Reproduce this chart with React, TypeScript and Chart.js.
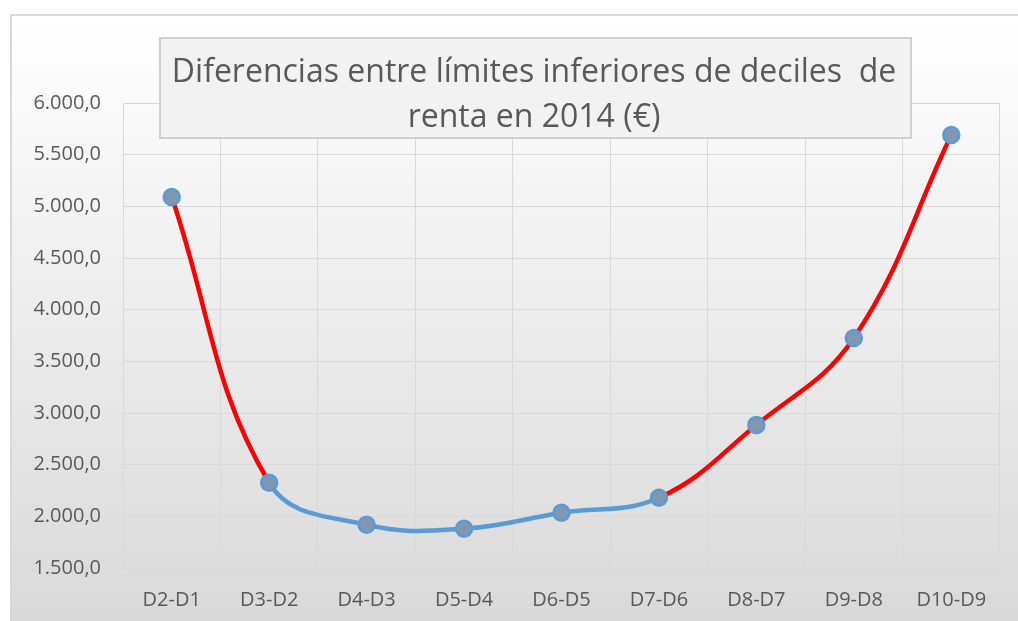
import React, { useEffect, useRef } from "react";
import { Chart, registerables } from "chart.js";

Chart.register(...registerables);

const categories = ["D2-D1", "D3-D2", "D4-D3", "D5-D4", "D6-D5", "D7-D6", "D8-D7", "D9-D8", "D10-D9"];
const values = [5090, 2325, 1918, 1880, 2035, 2180, 2885, 3725, 5690];
const blueSegments = [1, 2, 3, 4];
const titleLines = ["Diferencias entre límites inferiores de deciles  de", "renta en 2014 (€)"];

const fmt = (v: number) => {
  const s = Math.round(v).toString();
  const grouped = s.replace(/\B(?=(\d{3})+(?!\d))/g, ".");
  return grouped + ",0";
};

export default function App() {
  const ref = useRef<HTMLCanvasElement | null>(null);
  useEffect(() => {
    if (!ref.current) return;
    const bgPlugin = {
      id: "bg",
      beforeDraw(chart: any) {
        const c = chart.ctx;
        c.save();
        c.fillStyle = "#ffffff";
        c.fillRect(0, 0, chart.width, chart.height);
        const g = c.createLinearGradient(0, 15, 0, 621);
        g.addColorStop(0, "#FFFFFF");
        g.addColorStop(1, "#D9D9D9");
        c.fillStyle = g;
        c.fillRect(11, 15, chart.width, chart.height);
        c.strokeStyle = "#D9D9D9";
        c.lineWidth = 2;
        c.strokeRect(11, 15, chart.width + 10, chart.height + 10);
        c.restore();
      },
    };
    const titlePlugin = {
      id: "titlebox",
      afterDraw(chart: any) {
        const c = chart.ctx;
        c.save();
        c.fillStyle = "#F2F2F2";
        c.fillRect(160, 38, 751, 100);
        c.strokeStyle = "#D0D0D0";
        c.lineWidth = 2;
        c.strokeRect(160, 38, 751, 100);
        c.fillStyle = "#595959";
        c.font = "32px 'Open Sans', sans-serif";
        c.textAlign = "center";
        c.textBaseline = "alphabetic";
        c.fillText(titleLines[0], 534, 82);
        c.fillText(titleLines[1], 534, 127);
        c.restore();
      },
    };
    const chart = new Chart(ref.current, {
      type: "line",
      data: {
        labels: categories,
        datasets: [
          {
            data: values,
            borderColor: "#FF0000",
            borderWidth: 4.5,
            tension: 0.4,
            pointRadius: 8,
            pointBorderWidth: 2.5,
            pointBackgroundColor: "#8196B0",
            pointBorderColor: "#5B9BD5",
            segment: {
              borderColor: (ctx: any) => (blueSegments.includes(ctx.p0DataIndex) ? "#5B9BD5" : "#FF0000"),
            },
          },
        ],
      },
      options: {
        animation: false,
        responsive: false,
        layout: { padding: { left: 0, top: 103, right: 18, bottom: 0 } },
        plugins: { legend: { display: false }, tooltip: { enabled: false }, title: { display: false } },
        scales: {
          x: {
            offset: true,
            grid: { offset: true, color: "#D9D9D9", drawTicks: false },
            border: { color: "#D9D9D9" },
            ticks: { color: "#595959", font: { size: 20, family: "'Open Sans', sans-serif" }, padding: 20 },
            afterFit: (s: any) => {
              s.height = 53;
            },
          },
          y: {
            min: 1500,
            max: 6000,
            grid: { color: "#D9D9D9", drawTicks: false },
            border: { color: "#D9D9D9" },
            ticks: {
              stepSize: 500,
              color: "#595959",
              font: { size: 20, family: "'Open Sans', sans-serif" },
              padding: 22,
              callback: (v: any) => fmt(Number(v)),
            },
            afterFit: (s: any) => {
              s.width = 123;
            },
          },
        },
      },
      plugins: [bgPlugin, titlePlugin],
    });
    return () => chart.destroy();
  }, []);
  return (
    <div style={{ position: "absolute", left: 0, top: 0, width: 1018, height: 621 }}>
      <canvas ref={ref} width={1018} height={621} style={{ display: "block" }} />
    </div>
  );
}
